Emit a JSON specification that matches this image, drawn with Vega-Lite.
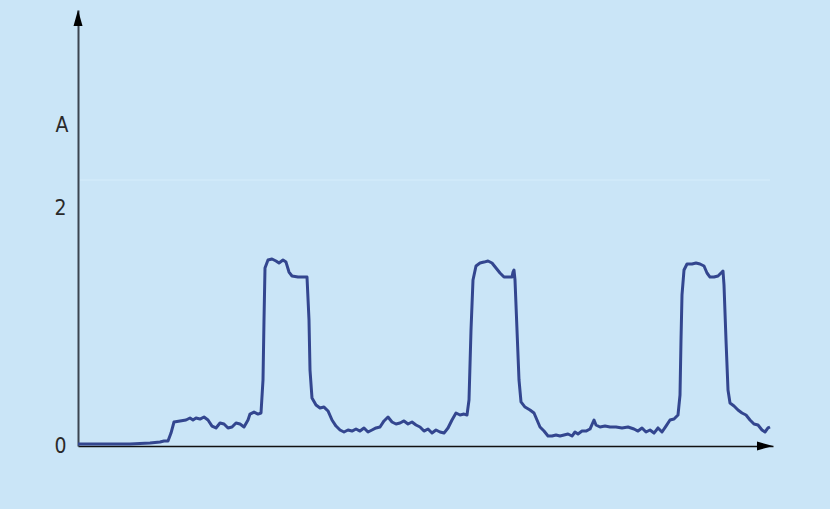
{
  "$schema": "https://vega.github.io/schema/vega-lite/v6.json",
  "autosize": "none",
  "width": 695,
  "height": 436,
  "padding": {"left": 78, "top": 10, "right": 57, "bottom": 63},
  "background": "#cae5f7",
  "config": {
    "view": {"stroke": null},
    "font": "DejaVu Sans Condensed, Liberation Sans Narrow, sans-serif"
  },
  "datasets": {
    "current": [
      {"t":0,"a":0.017},{"t":22,"a":0.017},{"t":52,"a":0.017},{"t":72,"a":0.025},{"t":82,"a":0.034},{"t":86,"a":0.042},{"t":90,"a":0.042},{"t":93,"a":0.109},{"t":96,"a":0.202},{"t":102,"a":0.211},{"t":108,"a":0.219},{"t":112,"a":0.236},{"t":115,"a":0.219},{"t":118,"a":0.236},{"t":122,"a":0.227},{"t":126,"a":0.244},{"t":130,"a":0.219},{"t":134,"a":0.168},{"t":138,"a":0.152},{"t":142,"a":0.194},{"t":146,"a":0.185},{"t":150,"a":0.152},{"t":154,"a":0.160},{"t":158,"a":0.194},{"t":162,"a":0.185},{"t":166,"a":0.160},{"t":170,"a":0.219},{"t":172,"a":0.269},{"t":176,"a":0.286},{"t":180,"a":0.269},{"t":183,"a":0.278},{"t":185,"a":0.556},{"t":186,"a":1.061},{"t":187,"a":1.499},{"t":190,"a":1.566},{"t":194,"a":1.575},{"t":198,"a":1.558},{"t":201,"a":1.541},{"t":205,"a":1.566},{"t":208,"a":1.549},{"t":211,"a":1.465},{"t":214,"a":1.432},{"t":220,"a":1.423},{"t":225,"a":1.423},{"t":229,"a":1.423},{"t":231,"a":1.061},{"t":232,"a":0.640},{"t":234,"a":0.404},{"t":238,"a":0.345},{"t":242,"a":0.320},{"t":246,"a":0.328},{"t":250,"a":0.295},{"t":254,"a":0.219},{"t":258,"a":0.168},{"t":262,"a":0.135},{"t":266,"a":0.118},{"t":270,"a":0.135},{"t":274,"a":0.126},{"t":278,"a":0.143},{"t":282,"a":0.126},{"t":286,"a":0.152},{"t":290,"a":0.118},{"t":294,"a":0.135},{"t":298,"a":0.152},{"t":302,"a":0.160},{"t":306,"a":0.211},{"t":310,"a":0.244},{"t":314,"a":0.202},{"t":318,"a":0.185},{"t":322,"a":0.194},{"t":326,"a":0.211},{"t":330,"a":0.185},{"t":334,"a":0.202},{"t":338,"a":0.177},{"t":342,"a":0.160},{"t":346,"a":0.126},{"t":350,"a":0.143},{"t":354,"a":0.109},{"t":358,"a":0.135},{"t":362,"a":0.118},{"t":366,"a":0.109},{"t":370,"a":0.152},{"t":374,"a":0.219},{"t":378,"a":0.278},{"t":382,"a":0.261},{"t":386,"a":0.269},{"t":389,"a":0.261},{"t":391,"a":0.387},{"t":393,"a":0.977},{"t":395,"a":1.398},{"t":398,"a":1.516},{"t":402,"a":1.541},{"t":406,"a":1.549},{"t":410,"a":1.558},{"t":414,"a":1.541},{"t":418,"a":1.499},{"t":422,"a":1.457},{"t":426,"a":1.423},{"t":430,"a":1.423},{"t":434,"a":1.423},{"t":435,"a":1.465},{"t":436,"a":1.482},{"t":437,"a":1.398},{"t":439,"a":0.977},{"t":441,"a":0.556},{"t":443,"a":0.371},{"t":447,"a":0.328},{"t":452,"a":0.303},{"t":456,"a":0.278},{"t":459,"a":0.219},{"t":462,"a":0.160},{"t":466,"a":0.126},{"t":470,"a":0.084},{"t":474,"a":0.084},{"t":478,"a":0.093},{"t":482,"a":0.084},{"t":486,"a":0.093},{"t":490,"a":0.101},{"t":494,"a":0.084},{"t":497,"a":0.118},{"t":500,"a":0.101},{"t":504,"a":0.126},{"t":508,"a":0.126},{"t":512,"a":0.143},{"t":516,"a":0.219},{"t":518,"a":0.177},{"t":522,"a":0.160},{"t":527,"a":0.168},{"t":532,"a":0.160},{"t":538,"a":0.160},{"t":544,"a":0.152},{"t":550,"a":0.160},{"t":556,"a":0.143},{"t":560,"a":0.126},{"t":564,"a":0.152},{"t":568,"a":0.118},{"t":572,"a":0.135},{"t":576,"a":0.109},{"t":580,"a":0.152},{"t":584,"a":0.118},{"t":588,"a":0.168},{"t":592,"a":0.219},{"t":596,"a":0.227},{"t":598,"a":0.244},{"t":600,"a":0.261},{"t":602,"a":0.429},{"t":603,"a":0.893},{"t":604,"a":1.272},{"t":606,"a":1.482},{"t":609,"a":1.533},{"t":614,"a":1.533},{"t":618,"a":1.541},{"t":622,"a":1.533},{"t":626,"a":1.516},{"t":629,"a":1.457},{"t":632,"a":1.423},{"t":636,"a":1.423},{"t":640,"a":1.432},{"t":644,"a":1.465},{"t":645,"a":1.474},{"t":646,"a":1.356},{"t":648,"a":0.893},{"t":650,"a":0.472},{"t":652,"a":0.362},{"t":656,"a":0.337},{"t":660,"a":0.303},{"t":664,"a":0.278},{"t":668,"a":0.261},{"t":672,"a":0.219},{"t":676,"a":0.185},{"t":680,"a":0.177},{"t":684,"a":0.135},{"t":687,"a":0.118},{"t":690,"a":0.152},{"t":692,"a":0.160}
    ],
    "arrows": [
      {"t": 0, "a": 3.672, "dir": "up"},
      {"t": 695, "a": 0, "dir": "right"}
    ],
    "guide": [
      {"a": 2.24}
    ]
  },
  "layer": [
    {
      "data": {"name": "guide"},
      "mark": {"type": "rule", "color": "#d0e9f9", "strokeWidth": 2, "x": 2, "x2": 692},
      "encoding": {
        "y": {"field": "a", "type": "quantitative", "scale": {"domain": [0, 3.672], "nice": false, "zero": false}}
      }
    },
    {
      "data": {"name": "current"},
      "mark": {"type": "line", "color": "#33468f", "strokeWidth": 3, "strokeJoin": "round", "interpolate": "linear"},
      "encoding": {
        "x": {
          "field": "t", "type": "quantitative",
          "scale": {"domain": [0, 695], "nice": false, "zero": false},
          "axis": {"title": null, "labels": false, "ticks": false, "grid": false, "domainColor": "#111111", "domainWidth": 1.6}
        },
        "y": {
          "field": "a", "type": "quantitative",
          "scale": {"domain": [0, 3.672], "nice": false, "zero": false},
          "axis": {
            "values": [0, 2], "format": "d", "ticks": false, "grid": false,
            "domainColor": "#3a4450", "domainWidth": 2,
            "labelFontSize": 21, "labelColor": "#2a2a2a", "labelPadding": 12,
            "labelFont": "DejaVu Sans Condensed, Liberation Sans Narrow, sans-serif", "labelFontWeight": 300,
            "title": "A", "titleAngle": 0, "titleAlign": "right", "titleBaseline": "middle",
            "titleX": -10, "titleY": 115, "titleFontSize": 21, "titleFontWeight": 300,
            "titleColor": "#2a2a2a", "titleFont": "DejaVu Sans Condensed, Liberation Sans Narrow, sans-serif"
          }
        }
      }
    },
    {
      "data": {"name": "arrows"},
      "mark": {"type": "point", "filled": true, "opacity": 1, "color": "#000000", "size": 324, "strokeWidth": 0},
      "encoding": {
        "x": {"field": "t", "type": "quantitative"},
        "y": {"field": "a", "type": "quantitative"},
        "shape": {
          "field": "dir", "type": "nominal", "legend": null,
          "scale": {"domain": ["up", "right"], "range": ["M0,0L-0.5,1.78L0.5,1.78Z", "M0,0L-1.78,-0.5L-1.78,0.5Z"]}
        }
      }
    }
  ]
}
